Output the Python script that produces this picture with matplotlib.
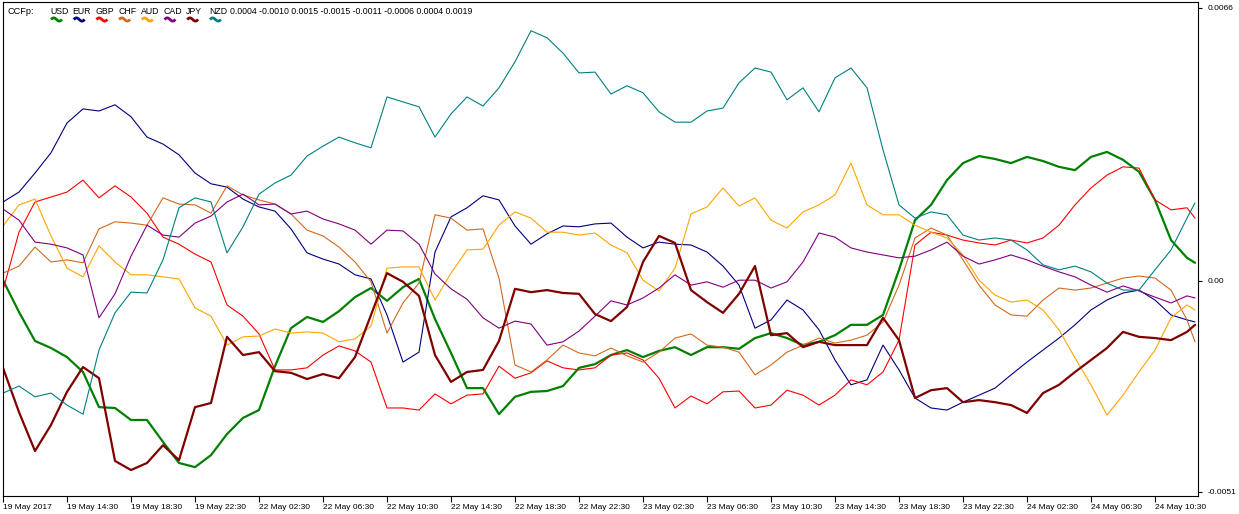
import matplotlib
matplotlib.use("Agg")
import matplotlib.pyplot as plt
import numpy as np
from matplotlib.lines import Line2D

plt.rcParams['font.family'] = ['Liberation Sans', 'DejaVu Sans']

# ---------------- data (values in units of 1e-4) ----------------
SCALE = 1e-4
hours = list(range(75)) + [74.5]   # hours since 19 May 10:30 (chart bars)

USD = [0.2, -7.5, -14.5, -16.2, -18.4, -22.0, -30.5, -30.7, -33.6, -33.6,
       -38.9, -44.0, -45.0, -42.1, -37.0, -33.1, -31.2, -20.6, -11.4, -8.7,
       -9.9, -7.3, -3.9, -1.7, -4.8, -1.5, 0.5, -9.2, -17.4, -25.9,
       -25.9, -32.2, -28.0, -26.8, -26.6, -25.4, -21.0, -20.1, -17.9, -16.7,
       -18.4, -16.9, -16.0, -17.9, -16.0, -16.0, -16.4, -13.8, -12.6, -13.8,
       -15.5, -14.7, -13.1, -10.6, -10.6, -8.2, 2.7, 14.7, 18.4, 24.4,
       28.5, 30.2, 29.5, 28.5, 30.0, 29.0, 27.6, 26.8, 30.0, 31.2,
       29.3, 26.4, 19.6, 9.9, 5.6, 4.4]

EUR = [19.1, 21.5, 26.1, 31.0, 38.2, 41.6, 41.1, 42.6, 39.7, 34.8,
       33.1, 30.5, 26.1, 23.5, 22.7, 19.8, 17.9, 16.9, 12.6, 6.8,
       5.3, 4.1, 1.5, 0.5, -8.2, -19.6, -17.2, 7.0, 15.5, 17.7,
       20.6, 19.6, 13.3, 8.9, 11.4, 13.3, 13.1, 13.8, 14.0, 10.6,
       8.0, 9.4, 8.9, 8.7, 7.0, 3.6, -1.0, -11.4, -9.4, -4.6,
       -7.0, -11.8, -19.1, -25.1, -23.9, -15.5, -21.5, -28.3, -30.7, -31.2,
       -29.3, -27.6, -25.9, -22.7, -19.6, -16.7, -13.8, -10.6, -7.0, -4.6,
       -2.9, -2.2, -4.6, -8.2, -9.4, -9.9]

GBP = [-2.2, 11.8, 19.1, 20.3, 21.5, 24.4, 20.1, 23.0, 20.3, 16.4,
       10.6, 8.9, 6.5, 4.6, -5.8, -8.5, -12.8, -21.5, -21.5, -21.0,
       -17.9, -15.7, -16.9, -19.6, -30.7, -30.7, -31.2, -27.3, -29.7, -27.6,
       -27.3, -20.6, -23.5, -22.2, -19.3, -21.0, -21.5, -21.0, -17.9, -17.4,
       -19.1, -23.5, -30.7, -27.8, -29.7, -26.8, -26.6, -30.7, -30.0, -26.4,
       -27.6, -30.0, -27.6, -23.9, -25.1, -22.0, -14.3, 8.7, 11.8, 11.1,
       9.9, 9.2, 8.7, 9.9, 9.2, 10.4, 13.5, 18.4, 22.5, 25.6,
       27.6, 27.3, 19.6, 17.2, 17.7, 15.2]

CHF = [1.9, 3.6, 8.2, 4.6, 5.1, 4.4, 12.6, 14.3, 14.0, 13.5,
       20.1, 18.6, 18.4, 16.4, 23.0, 20.8, 19.6, 18.6, 16.2, 12.3,
       10.9, 8.2, 4.6, -0.2, -12.6, -5.3, -0.5, 16.0, 15.2, 12.3,
       12.6, 0.7, -20.3, -22.0, -19.1, -15.5, -17.4, -18.1, -16.2, -18.1,
       -19.6, -17.2, -13.8, -12.8, -15.5, -16.0, -17.2, -22.7, -20.3, -17.2,
       -15.5, -13.8, -15.0, -14.3, -13.1, -9.9, -1.0, 10.4, 12.8, 11.1,
       5.1, -1.0, -5.8, -8.2, -8.5, -4.6, -1.7, -2.2, -1.7, -0.5,
       0.7, 1.2, 0.7, -2.2, -9.4, -14.7]

AUD = [13.3, 18.4, 19.8, 10.9, 3.1, 1.0, 8.5, 4.6, 1.5, 1.5,
       1.0, 0.5, -6.5, -8.5, -15.5, -13.5, -13.3, -11.6, -12.6, -12.3,
       -12.6, -14.7, -14.0, -10.9, 3.1, 3.4, 3.4, -4.6, 1.9, 7.5,
       7.7, 13.5, 16.7, 15.2, 11.8, 11.8, 11.1, 11.6, 8.7, 6.8,
       0.2, -2.4, 3.1, 16.2, 17.9, 22.5, 18.1, 20.1, 14.7, 12.8,
       16.7, 18.4, 20.8, 28.5, 18.4, 16.0, 16.0, 13.5, 11.8, 10.4,
       6.3, 0.2, -3.4, -5.1, -4.6, -7.0, -11.8, -18.6, -25.1, -32.4,
       -27.6, -22.0, -16.7, -8.9, -5.8, -7.0]

CAD = [17.4, 14.7, 9.4, 8.9, 8.0, 6.3, -8.9, -3.1, 6.0, 13.5,
       11.1, 10.6, 14.0, 15.7, 19.1, 21.0, 18.4, 18.6, 16.2, 16.9,
       15.0, 13.8, 12.3, 8.9, 12.3, 12.1, 8.9, 1.7, -1.9, -4.4,
       -8.9, -11.4, -9.7, -10.4, -15.5, -14.7, -12.1, -8.5, -4.8, -5.8,
       -4.1, -1.7, 1.5, -1.0, -0.2, -1.5, 0.2, 0.2, -1.7, -0.2,
       4.6, 11.6, 10.6, 8.0, 7.0, 6.3, 5.6, 6.0, 7.5, 9.4,
       6.0, 4.1, 5.1, 6.3, 5.1, 3.6, 2.2, 1.0, -1.0, -2.7,
       -1.2, -2.4, -3.9, -5.3, -3.6, -4.1]

JPY = [-21.0, -31.7, -41.1, -34.8, -26.8, -20.8, -23.5, -43.5, -45.7, -44.0,
       -39.7, -43.3, -30.5, -29.5, -13.5, -17.9, -17.2, -21.8, -22.2, -23.7,
       -22.5, -23.5, -18.4, -8.2, 1.9, -0.2, -3.6, -17.9, -24.4, -22.0,
       -21.5, -14.5, -1.9, -2.7, -2.2, -2.9, -3.1, -8.0, -9.7, -6.3,
       4.6, 10.9, 9.2, -2.2, -5.1, -7.7, -3.1, 3.6, -13.1, -12.6,
       -16.0, -14.7, -15.5, -15.5, -15.5, -8.9, -14.3, -28.3, -26.4, -25.9,
       -29.3, -28.8, -29.3, -30.0, -31.9, -27.1, -25.1, -22.0, -19.1, -16.2,
       -12.3, -13.5, -13.8, -14.3, -12.3, -10.6]

NZD = [-27.1, -25.4, -28.0, -27.1, -30.0, -32.2, -16.7, -7.7, -2.7, -2.9,
       5.1, 17.7, 20.1, 19.1, 6.8, 13.1, 21.0, 23.7, 25.6, 30.2,
       32.6, 34.8, 33.4, 32.2, 44.5, 43.3, 42.1, 34.8, 40.4, 44.5,
       42.3, 46.7, 53.0, 60.5, 58.8, 55.1, 50.3, 50.5, 45.2, 47.2,
       45.5, 40.9, 38.4, 38.4, 41.1, 41.8, 47.9, 51.5, 50.5, 43.8,
       46.7, 40.9, 49.1, 51.5, 46.7, 31.7, 18.4, 15.2, 16.7, 16.0,
       11.1, 9.9, 10.4, 9.9, 7.5, 3.9, 2.7, 3.6, 2.2, -0.5,
       -2.2, -2.2, 2.7, 7.5, 15.2, 18.9]

currencies = ["USD", "EUR", "GBP", "CHF", "AUD", "CAD", "JPY", "NZD"]
legend_values = ["0.0004", "-0.0010", "0.0015", "-0.0015",
                 "-0.0011", "-0.0006", "0.0004", "0.0019"]

tick_hours = list(range(0, 73, 4))
tick_labels = ["19 May 2017", "19 May 14:30", "19 May 18:30", "19 May 22:30",
               "22 May 02:30", "22 May 06:30", "22 May 10:30", "22 May 14:30",
               "22 May 18:30", "22 May 22:30", "23 May 02:30", "23 May 06:30",
               "23 May 10:30", "23 May 14:30", "23 May 18:30", "23 May 22:30",
               "24 May 02:30", "24 May 06:30", "24 May 10:30"]

y_ticks = [0.0066, 0.0, -0.0051]
y_tick_labels = ["0.0066", "0.00", "-0.0051"]

# ---------------- styling ----------------
colors = ["#008000", "#000080", "#FF0000", "#D2691E",
          "#FFA500", "#800080", "#800000", "#008080"]
widths = [1.6, 0.8, 0.8, 0.8, 0.8, 0.8, 1.6, 0.8]

W, H = 1239, 514
fig = plt.figure(figsize=(W / 100, H / 100), dpi=100)
fig.patch.set_facecolor("white")

px_left, px_right, px_top, px_bottom = 3, 1198, 2, 496
ax = fig.add_axes([px_left / W, 1 - px_bottom / H,
                   (px_right - px_left) / W, (px_bottom - px_top) / H])
ax.set_facecolor("white")

series = [USD, EUR, GBP, CHF, AUD, CAD, JPY, NZD]
for vals, c, lw in zip(series, colors, widths):
    ax.plot(hours, np.array(vals) * SCALE, color=c, lw=lw,
            solid_joinstyle="round", solid_capstyle="round")

ax.set_xlim(0, (px_right - px_left) / 16.0)
ax.set_ylim(-0.005198, 0.006745)

for s in ax.spines.values():
    s.set_color("black")
    s.set_linewidth(0.8)

ax.set_xticks(tick_hours)
ax.set_xticklabels(tick_labels, ha="left")
ax.tick_params(axis="x", direction="out", length=4, width=0.8,
               pad=1.5, labelsize=6.0, colors="black")

ax.yaxis.tick_right()
ax.set_yticks(y_ticks)
ax.set_yticklabels(y_tick_labels)
ax.tick_params(axis="y", direction="out", length=3, width=0.8,
               pad=4, labelsize=6.0, colors="black")

# ---------------- indicator header ----------------
def fx(px):
    return px / W

def fy(py):
    return 1 - py / H

fig.text(fx(7), fy(11), "CCFp:", fontsize=6.6, va="center", ha="left")
label_x0, label_step = 50, 22.7
for i, (cur, c) in enumerate(zip(currencies, colors)):
    x0 = label_x0 + i * label_step
    fig.text(fx(x0), fy(11), cur, fontsize=6.3, va="center", ha="left")
    t = np.linspace(0, 1, 25)
    sx = x0 + 1 + 11 * t
    sy = 19.5 - 1.6 * np.sin(2 * np.pi * t)
    fig.add_artist(Line2D(fx(sx), fy(sy), color=c, lw=2.0,
                          transform=fig.transFigure,
                          solid_capstyle="butt"))
fig.text(fx(230), fy(11), " ".join(legend_values), fontsize=6.3,
         va="center", ha="left")

fig.savefig("out.png", dpi=100, facecolor="white")
